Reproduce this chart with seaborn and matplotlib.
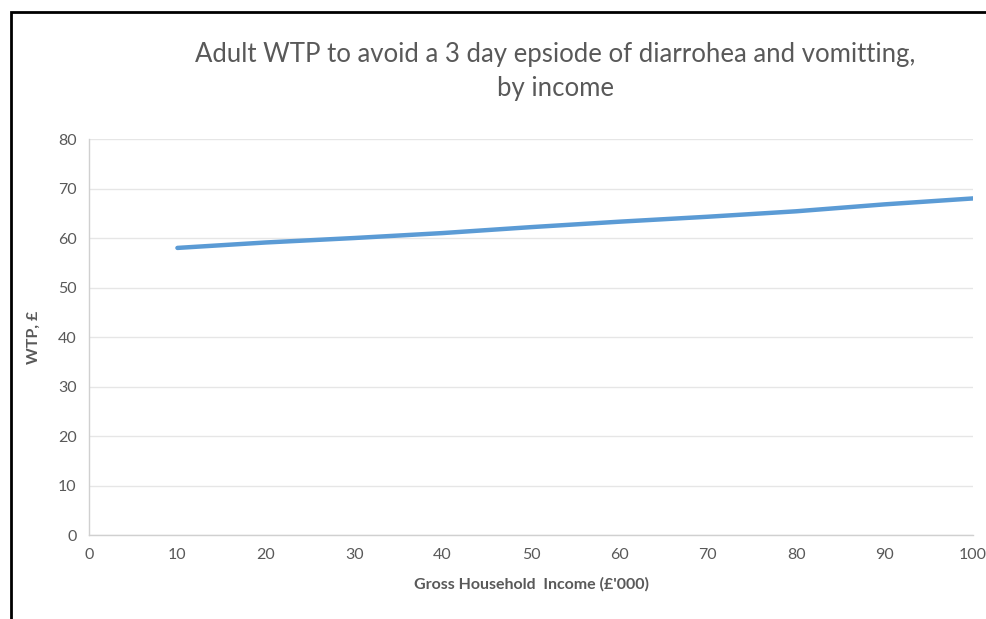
import matplotlib
matplotlib.use("Agg")
import matplotlib.pyplot as plt
import seaborn as sns
import pandas as pd
from matplotlib.patches import Rectangle

income = [10, 20, 30, 40, 50, 60, 70, 80, 90, 100]
wtp = [58.0, 59.1, 60.0, 61.0, 62.2, 63.3, 64.3, 65.4, 66.8, 68.0]
x_ticks = [0, 10, 20, 30, 40, 50, 60, 70, 80, 90, 100]
y_ticks = [0, 10, 20, 30, 40, 50, 60, 70, 80]

df = pd.DataFrame({"income": income, "wtp": wtp})

sns.set_style("white")
plt.rcParams["font.family"] = ["Lato", "DejaVu Sans"]

fig = plt.figure(figsize=(9.87, 6.19), dpi=100)
ax = fig.add_axes([0.0902, 0.1357, 0.8956, 0.6397])

sns.lineplot(data=df, x="income", y="wtp", ax=ax, color="#5b9bd5", linewidth=3.2,
             solid_capstyle="round")

ax.set_xlim(0, 100)
ax.set_ylim(0, 80)
ax.set_xticks(x_ticks)
ax.set_yticks(y_ticks)
ax.tick_params(axis="both", length=0, labelsize=11.5, labelcolor="#595959", pad=9)
ax.yaxis.grid(True, color="#e6e6e6", linewidth=1)
ax.set_axisbelow(True)
for s in ["top", "right"]:
    ax.spines[s].set_visible(False)
for s in ["left", "bottom"]:
    ax.spines[s].set_color("#d0d0d0")
    ax.spines[s].set_linewidth(1)

ax.set_xlabel("Gross Household  Income (£'000)", fontsize=11.5, fontweight="bold",
              color="#595959", labelpad=11)
ax.set_ylabel("WTP, £", fontsize=11.5, fontweight="bold", color="#595959", labelpad=12)

fig.text(0.563, 0.885, "Adult WTP to avoid a 3 day epsiode of diarrohea and vomitting,\nby income",
         ha="center", va="center", fontsize=18.5, color="#595959", linespacing=1.45)

# outer border of the chart area
fig.patches.append(Rectangle((11 / 987, -0.05), 1.1, 1 - 12 / 619 + 0.05,
                             transform=fig.transFigure, fill=False,
                             edgecolor="black", linewidth=2))

fig.savefig("out.png", dpi=100)
